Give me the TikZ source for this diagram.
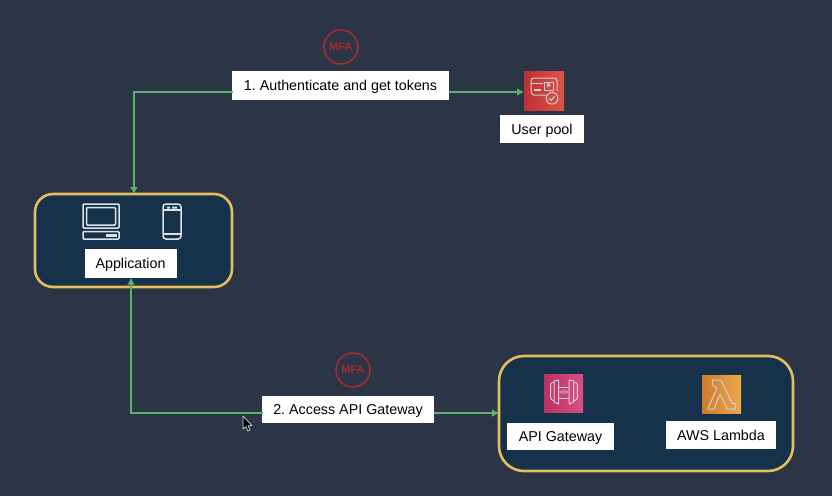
\documentclass[tikz,border=0pt]{standalone}
\usepackage{fontspec}
\setmainfont{Liberation Sans}
\usetikzlibrary{arrows.meta,calc}
\definecolor{bgc}{HTML}{2C3545}
\definecolor{panelc}{HTML}{16324A}
\definecolor{edgec}{HTML}{E3BE5C}
\definecolor{linkc}{HTML}{5BB06C}
\definecolor{mfac}{HTML}{A12C32}
\definecolor{iconline}{HTML}{DDE2E7}
\definecolor{poolA}{HTML}{BD3135}
\definecolor{poolB}{HTML}{DE5349}
\definecolor{gwA}{HTML}{BC3068}
\definecolor{gwB}{HTML}{DA4F86}
\definecolor{lamA}{HTML}{CC7A2C}
\definecolor{lamB}{HTML}{EDA94B}
\tikzset{
  panel/.style={draw=edgec,line width=2.6pt,fill=panelc,rounded corners=#1},
  tag/.style={fill=white,text=black,font=\fontsize{14.3}{16}\selectfont\frenchspacing,inner sep=0pt,anchor=center,text height=10pt,text depth=0pt},
  link/.style={draw=linkc,line width=2.6pt,-{Latex[length=7pt,width=8pt]}},
  linkplain/.style={draw=linkc,line width=2.6pt},
  mfa/.style={circle,draw=mfac,line width=1.6pt,minimum size=34pt,inner sep=0pt,text=mfac,font=\fontsize{11}{12}\selectfont\bfseries},
  devline/.style={draw=iconline,line width=1.5pt,rounded corners=1pt},
  glyph/.style={draw=white!82!black,line width=1pt,line join=round},
}
\begin{document}
\begin{tikzpicture}[x=1pt,y=-1pt]
\useasboundingbox (0,0) rectangle (832,496);
\fill[bgc] (0,0) rectangle (832,496);

% panels
\draw[panel=18pt] (35,194) rectangle (232,287);
\draw[panel=25pt] (499,356) rectangle (793,471);
\coordinate (appN) at (134,194);
\coordinate (gwW) at (499,413);
\coordinate (poolW) at (524,92);
\coordinate (turnA) at (134,92);
\coordinate (turnB) at (131,413);

% labels
\node[tag,minimum width=217pt,minimum height=29pt] (authlabel) at (340.5,85.5) {1. Authenticate and get tokens};
\node[tag,minimum width=172pt,minimum height=27pt] (accesslabel) at (348,409.5) {2. Access API Gateway};
\node[tag,minimum width=84pt,minimum height=28pt] (poollabel) at (542,129) {User pool};
\node[tag,minimum width=92pt,minimum height=29pt] (applabel) at (130.5,263) {Application};
\node[tag,minimum width=107pt,minimum height=27pt] (gwlabel) at (560.5,436.5) {API Gateway};
\node[tag,minimum width=110pt,minimum height=28pt] (lambdalabel) at (721,435) {AWS Lambda};

% connectors
\draw[linkplain,line cap=rect] (authlabel.west |- turnA) -- (turnA);
\draw[link] (turnA) -- (appN);
\draw[link] (authlabel.east |- poolW) -- (poolW);
\draw[linkplain,line cap=rect] (accesslabel.west |- turnB) -- (turnB);
\draw[link] (turnB) -- (applabel.south -| turnB);
\draw[link] (accesslabel.east |- gwW) -- (gwW);

% MFA badges
\node[mfa] (mfatop) at (341,47) {MFA};
\node[mfa] (mfabottom) at (353,370) {MFA};

% laptop
\draw[devline] (83,204) rectangle (119,228);
\draw[devline] (86.5,207.5) rectangle (115.5,225);
\draw[devline] (83,231.5) rectangle (119,239);
\fill[iconline] (106,234) rectangle (117,237);
% phone
\draw[devline,rounded corners=3pt] (163,204) rectangle (181,239);
\draw[iconline,line width=1.2pt] (163,210) -- (181,210) (163,234) -- (181,234);
\fill[iconline] (167,206.5) rectangle (170,208.5) (172,206.5) rectangle (177,208.5);

% user pool icon
\shade[left color=poolA,right color=poolB] (524,71) rectangle (564,110);
\draw[glyph,rounded corners=1pt] (546,95) -- (533,95) -- (531,93) -- (531,80) -- (533,78) -- (555,78) -- (557,80) -- (557,91);
\draw[glyph] (531,83) -- (543,83);
\draw[glyph,line width=1.5pt] (533.5,90) -- (541,90);
\draw[glyph] (544,82) rectangle (553,90);
\draw[glyph] (548.5,85) circle (1.6pt);
\draw[glyph,fill=poolB!70!poolA] (552,98.3) circle (5.8pt);
\draw[glyph] (549.2,98.3) -- (551.3,100.4) -- (554.8,96);

% api gateway icon
\shade[left color=gwA,right color=gwB] (544,374) rectangle (583,412);
\draw[glyph,rounded corners=1pt] (554,382) -- (550.7,383.5) -- (550.7,399) -- (554,401);
\draw[glyph] (554,381) -- (558.7,380) -- (558.7,404) -- (554,402) -- cycle;
\draw[glyph,rounded corners=1pt] (573.7,382) -- (577.3,383.5) -- (577.3,399) -- (573.7,401);
\draw[glyph] (573.7,381) -- (569,380) -- (569,404) -- (573.7,402) -- cycle;
\draw[glyph,line width=0.8pt] (558.7,387) -- (569,387) (558.7,398) -- (569,398);
\node[inner sep=0pt,text=white!85!black,font=\fontsize{6}{6}\selectfont\bfseries] (gwglyph) at (563.8,392.5) {</>};

% lambda icon
\shade[left color=lamA,right color=lamB] (702,375) rectangle (741,413);
\draw[glyph] (712.3,380) -- (721,380) -- (732.3,403.3) -- (735.7,403.3) -- (735.7,409) -- (727.3,409) -- (720,394) -- (714,409) -- (707.7,409) -- (717,388.3) -- (712.3,385) -- cycle;

% pointer
\draw[fill=black,draw=white!85!black,line width=0.7pt,line join=round] (243,416) -- (243,429) -- (245.8,426.6) -- (247.8,431) -- (250,430) -- (248,425.8) -- (252,425.6) -- cycle;
\end{tikzpicture}
\end{document}
